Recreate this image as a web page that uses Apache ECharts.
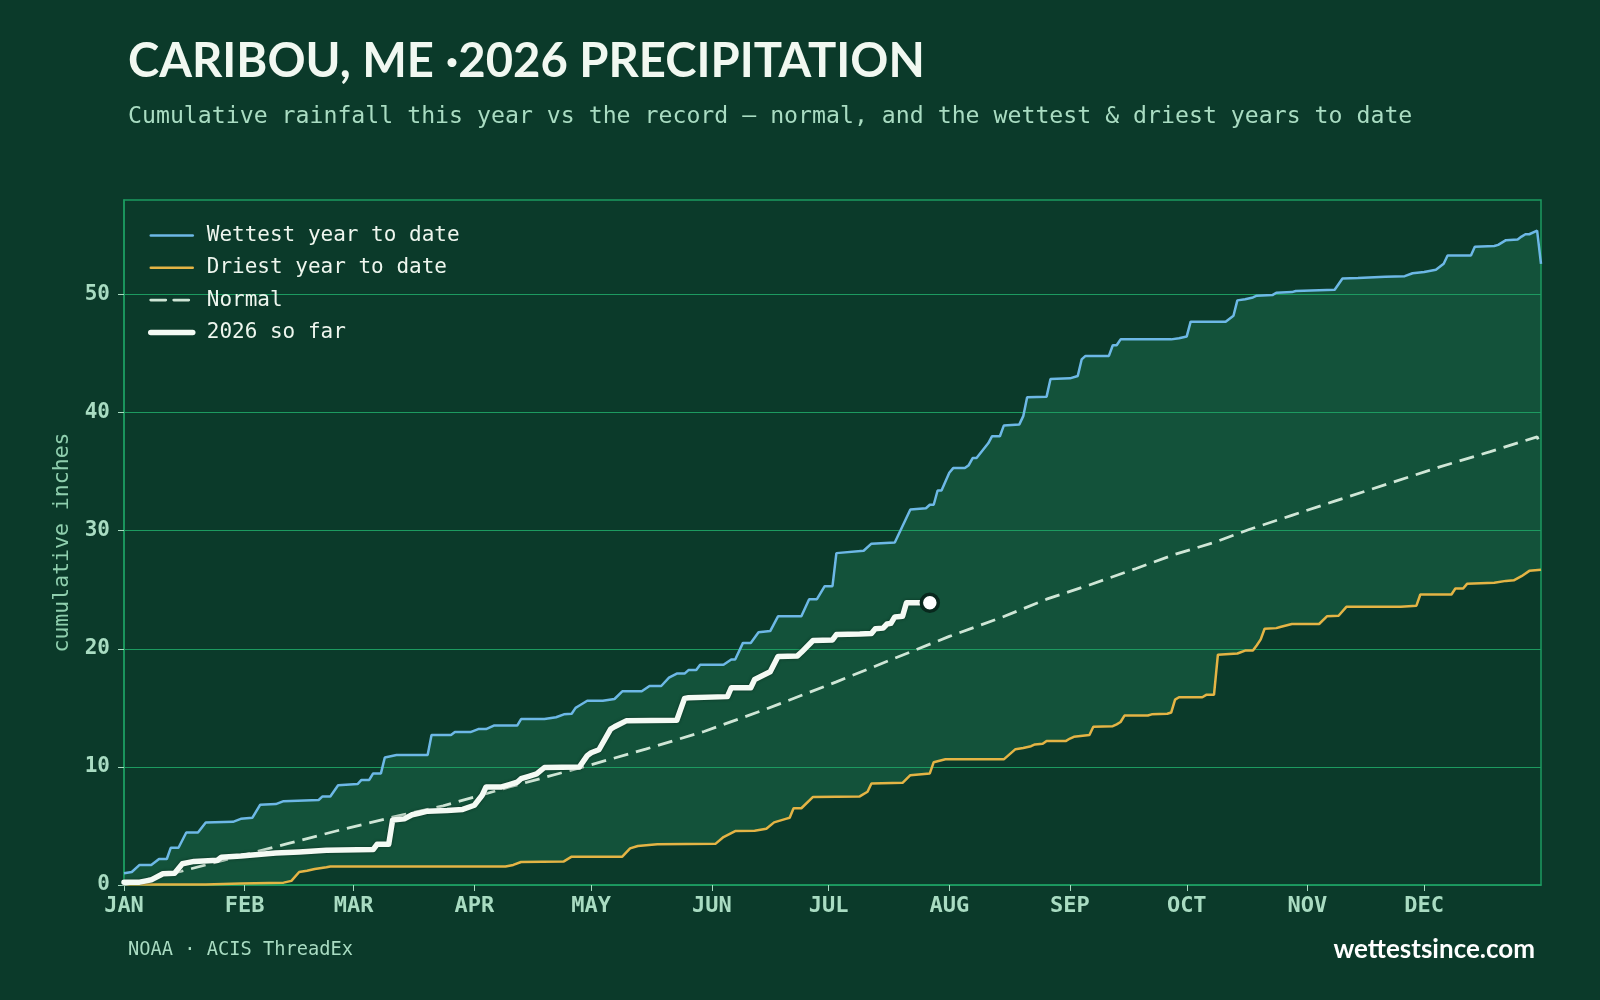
<!DOCTYPE html>
<html>
<head>
<meta charset="utf-8">
<title>Caribou, ME 2026 precipitation</title>
<script src="https://cdn.jsdelivr.net/npm/echarts@6/dist/echarts.min.js"></script>
<style>
  html, body { margin: 0; padding: 0; background: #0b3a2a; }
  #chart { width: 1600px; height: 1000px; }
</style>
</head>
<body>
<div id="chart"></div>
<script>
  // month ticks on a day-of-year axis (2026, 365 days)
  var monthNames = ['JAN', 'FEB', 'MAR', 'APR', 'MAY', 'JUN', 'JUL', 'AUG', 'SEP', 'OCT', 'NOV', 'DEC']
  var monthStarts = [0, 31, 59, 90, 120, 151, 181, 212, 243, 273, 304, 334]
  var yTicks = [0, 10, 20, 30, 40, 50]

  // [day of year, cumulative inches]
  var wettest = [
    [0, 1.0], [2, 1.1], [4, 1.7], [7, 1.7], [9, 2.2], [11, 2.2], [12, 3.15], [14, 3.15], [16, 4.45], [19, 4.45],
    [21, 5.3], [28, 5.35], [30, 5.6], [33, 5.7], [35, 6.8], [39, 6.85], [41, 7.1], [50, 7.2], [51, 7.5], [53, 7.5],
    [55, 8.45], [60, 8.55], [61, 8.9], [63, 8.9], [64, 9.45], [66, 9.45], [67, 10.8], [70, 11.0], [78, 11.0], [79, 12.7],
    [84, 12.7], [85, 12.95], [89, 12.95], [91, 13.2], [93, 13.2], [95, 13.5], [101, 13.5], [102, 14.05], [108, 14.05], [111, 14.2],
    [113, 14.45], [115, 14.5], [116, 15.0], [117, 15.2], [119, 15.6], [123, 15.6], [126, 15.75], [128, 16.4], [133, 16.4], [135, 16.85],
    [138, 16.85], [140, 17.55], [142, 17.9], [144, 17.9], [145, 18.2], [147, 18.2], [148, 18.65], [154, 18.65], [156, 19.1], [157, 19.1],
    [159, 20.5], [161, 20.5], [163, 21.4], [166, 21.5], [168, 22.75], [174, 22.75], [176, 24.2], [178, 24.2], [180, 25.3], [182, 25.3],
    [183, 28.1], [190, 28.3], [192, 28.9], [198, 29.0], [202, 31.8], [206, 31.9], [207, 32.2], [208, 32.2], [209, 33.4], [210, 33.4],
    [212, 34.9], [213, 35.3], [216, 35.3], [217, 35.55], [218, 36.15], [219, 36.15], [222, 37.4], [223, 38.0], [225, 38.0], [226, 38.9],
    [230, 39.0], [231, 39.7], [232, 41.3], [237, 41.35], [238, 42.85], [243, 42.9], [245, 43.1], [246, 44.5], [247, 44.8], [253, 44.8],
    [254, 45.7], [255, 45.7], [256, 46.2], [269, 46.2], [271, 46.3], [273, 46.45], [274, 47.7], [283, 47.7], [285, 48.2], [286, 49.5],
    [288, 49.6], [290, 49.75], [291, 49.9], [295, 49.95], [296, 50.15], [300, 50.2], [301, 50.3], [311, 50.4], [313, 51.35], [317, 51.4],
    [324, 51.5], [329, 51.55], [331, 51.8], [334, 51.9], [337, 52.1], [339, 52.6], [340, 53.3], [346, 53.3], [347, 54.05], [352, 54.1],
    [353, 54.2], [355, 54.6], [358, 54.65], [359, 54.9], [360, 55.1], [361, 55.1], [363, 55.4], [364, 52.6]
  ]
  var driest = [
    [0, 0.04], [21, 0.05], [30, 0.12], [41, 0.2], [43, 0.35], [45, 1.1], [47, 1.2], [49, 1.35], [52, 1.5], [53, 1.57],
    [98, 1.57], [100, 1.7], [102, 1.95], [113, 2.0], [115, 2.4], [128, 2.4], [130, 3.1], [132, 3.3], [137, 3.45], [152, 3.5],
    [154, 4.06], [157, 4.57], [162, 4.6], [165, 4.76], [167, 5.3], [170, 5.6], [171, 5.7], [172, 6.5], [174, 6.5], [177, 7.46],
    [189, 7.5], [191, 7.9], [192, 8.6], [200, 8.65], [202, 9.3], [207, 9.45], [208, 10.4], [211, 10.64], [226, 10.64], [229, 11.5],
    [231, 11.6], [233, 11.75], [234, 11.9], [236, 11.95], [237, 12.2], [242, 12.2], [243, 12.4], [244, 12.55], [248, 12.7], [249, 13.4],
    [254, 13.45], [255, 13.6], [256, 13.8], [257, 14.35], [263, 14.35], [264, 14.45], [268, 14.5], [269, 14.6], [270, 15.7], [271, 15.9],
    [277, 15.9], [278, 16.1], [280, 16.1], [281, 19.5], [286, 19.6], [288, 19.85], [290, 19.85], [291, 20.3], [292, 20.8], [293, 21.7],
    [296, 21.75], [297, 21.85], [300, 22.1], [307, 22.1], [309, 22.75], [312, 22.8], [314, 23.55], [328, 23.55], [332, 23.65], [333, 24.6],
    [341, 24.6], [342, 25.1], [344, 25.1], [345, 25.5], [352, 25.6], [355, 25.75], [357, 25.8], [359, 26.15], [361, 26.6], [364, 26.7]
  ]
  var normal = [
    [0, 0], [14, 1.1], [28, 2.3], [42, 3.5], [56, 4.7], [71, 5.9], [82, 6.7], [99, 8.3], [118, 10.0], [134, 11.5],
    [149, 13.0], [165, 14.9], [183, 17.2], [198, 19.2], [212, 21.05], [225, 22.6], [237, 24.2], [248, 25.4], [260, 26.8], [270, 28.0],
    [280, 29.0], [289, 30.1], [300, 31.3], [311, 32.5], [325, 34.0], [338, 35.4], [351, 36.7], [363, 37.95], [364, 37.15]
  ]
  var soFar = [
    [0, 0.24], [4, 0.24], [7, 0.43], [10, 0.95], [13, 1.0], [15, 1.8], [18, 2.0], [24, 2.1], [25, 2.35], [30, 2.45],
    [39, 2.7], [45, 2.8], [52, 2.95], [64, 3.0], [65, 3.45], [68, 3.45], [69, 5.5], [72, 5.6], [74, 5.95], [76, 6.1],
    [78, 6.25], [83, 6.3], [87, 6.4], [90, 6.75], [92, 7.6], [93, 8.3], [97, 8.3], [99, 8.5], [101, 8.7], [102, 9.0],
    [104, 9.2], [106, 9.4], [108, 9.95], [117, 10.0], [119, 10.95], [120, 11.2], [122, 11.45], [125, 13.2], [126, 13.4], [129, 13.9],
    [142, 13.95], [144, 15.8], [145, 15.85], [155, 15.95], [156, 16.7], [161, 16.7], [162, 17.4], [166, 18.05], [168, 19.35], [173, 19.4],
    [174, 19.7], [177, 20.7], [182, 20.75], [183, 21.2], [189, 21.25], [192, 21.3], [193, 21.7], [195, 21.75], [196, 22.1], [197, 22.15],
    [198, 22.7], [200, 22.75], [201, 23.9], [207, 23.9]
  ]

  var days = []
  for (var i = 0; i < 365; i++) days.push(String(i))
  function isMonthStart(idx) { return monthStarts.indexOf(idx) >= 0 }

  var BG = '#0b3a2a'
  var BAND = '#13523a'
  var GRID = '#1d9a60'
  var MINT = '#a9dcc2'
  var MONO = '"DejaVu Sans Mono", monospace'
  var SANS = 'Lato, "Open Sans", sans-serif'

  var myChart = echarts.init(document.getElementById('chart'))
  var option = {
    backgroundColor: BG,
    animation: false,
    title: [
      { text: 'CARIBOU, ME ·2026 PRECIPITATION', left: 123, top: 33,
        textStyle: { fontFamily: SANS, fontWeight: 'bold', fontSize: 47.2, color: '#f1f8f1' } },
      { text: 'Cumulative rainfall this year vs the record — normal, and the wettest & driest years to date', left: 123, top: 100,
        textStyle: { fontFamily: MONO, fontWeight: 'normal', fontSize: 23.2, color: MINT } },
      { text: 'NOAA · ACIS ThreadEx', left: 123, top: 936,
        textStyle: { fontFamily: MONO, fontWeight: 'normal', fontSize: 18.7, color: MINT } },
      { text: 'wettestsince.com', right: 60, top: 932,
        textStyle: { fontFamily: SANS, fontWeight: 'bold', fontSize: 26, color: '#ffffff' } }
    ],
    legend: {
      data: ['Wettest year to date', 'Driest year to date', 'Normal', '2026 so far'],
      orient: 'vertical',
      left: 148, top: 225, padding: 0,
      itemWidth: 42, itemHeight: 14, itemGap: 11.3,
      itemStyle: { opacity: 0 },
      lineStyle: { width: 'inherit', cap: 'round' },
      textStyle: { fontFamily: MONO, fontSize: 21, color: '#eef6ee', padding: [0, 0, 0, 9] }
    },
    grid: { left: 124, right: 59, top: 200, bottom: 115, show: true, borderColor: GRID, borderWidth: 1.5, z: 2 },
    xAxis: {
      type: 'category',
      data: days,
      boundaryGap: false,
      z: 2,
      axisLine: { lineStyle: { color: GRID, width: 1.5 } },
      axisTick: { interval: function (idx) { return isMonthStart(idx) }, length: 6, lineStyle: { color: MINT } },
      axisLabel: {
        interval: function (idx) { return isMonthStart(idx) },
        formatter: function (v, idx) { return monthNames[monthStarts.indexOf(Number(v))] || '' },
        fontFamily: MONO, fontWeight: 'bold', fontSize: 22, color: MINT, margin: 10
      },
      splitLine: { show: false }
    },
    yAxis: {
      type: 'value',
      min: 0, max: 58, interval: 10,
      z: 2,
      name: 'cumulative inches',
      nameLocation: 'middle',
      nameGap: 40,
      nameTextStyle: { fontFamily: MONO, fontSize: 21.5, color: '#8fcfae' },
      axisLine: { show: true, lineStyle: { color: GRID, width: 1.5 } },
      axisTick: { show: true, length: 6, customValues: yTicks, lineStyle: { color: MINT } },
      axisLabel: {
        customValues: yTicks,
        fontFamily: MONO, fontWeight: 'bold', fontSize: 21, color: MINT, margin: 14
      },
      splitLine: { show: true, lineStyle: { color: GRID, width: 1.2 } }
    },
    series: [
      // band between wettest and driest: fill under wettest, then cover under driest
      { name: 'band-top', type: 'line', data: wettest, symbol: 'none', silent: true, z: 1,
        lineStyle: { width: 0 }, areaStyle: { color: BAND, opacity: 1 } },
      { name: 'band-mask', type: 'line', data: driest, symbol: 'none', silent: true, z: 1,
        lineStyle: { width: 0 }, areaStyle: { color: BG, opacity: 1 } },
      { name: 'Wettest year to date', type: 'line', data: wettest, symbol: 'none', z: 3,
        itemStyle: { color: '#6db8e6' }, lineStyle: { color: '#6db8e6', width: 2.5 } },
      { name: 'Driest year to date', type: 'line', data: driest, symbol: 'none', z: 3,
        itemStyle: { color: '#e4b445' }, lineStyle: { color: '#e4b445', width: 2.5 } },
      { name: 'Normal', type: 'line', data: normal, symbol: 'none', z: 3,
        itemStyle: { color: '#cfe6d6' }, lineStyle: { color: '#cfe6d6', width: 2.8, type: [15, 8] } },
      { name: '2026 so far', type: 'line', data: soFar, symbol: 'none', z: 4,
        itemStyle: { color: '#f4faf4' },
        lineStyle: { color: '#f4faf4', width: 5.5, cap: 'round', join: 'round', shadowColor: 'rgba(5,30,20,0.6)', shadowBlur: 3 } },
      { name: 'today', type: 'scatter', data: [soFar[soFar.length - 1]], z: 5, symbolSize: 17,
        itemStyle: { color: '#ffffff', borderColor: '#08281d', borderWidth: 3.5, opacity: 1 } }
    ]
  }
  myChart.setOption(option)
</script>
</body>
</html>
